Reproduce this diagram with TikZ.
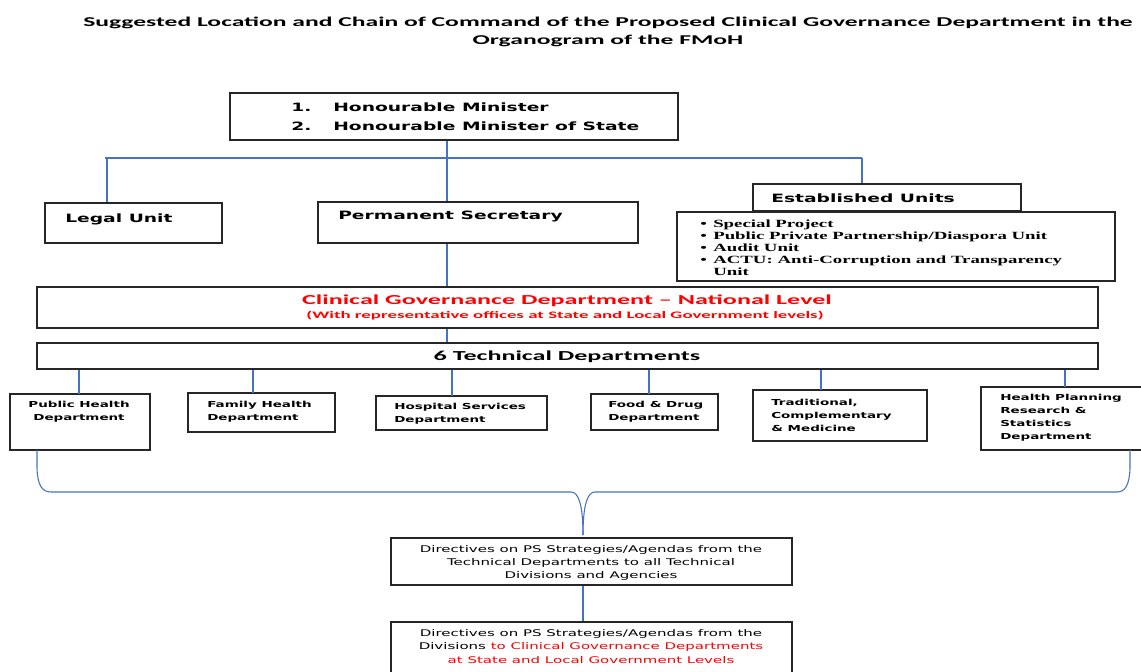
\documentclass[tikz,border=0pt]{standalone}
\usepackage{fontspec}
\usetikzlibrary{fit}
\newfontfamily\titlefont[FakeStretch=1.9]{Carlito}
\newfontfamily\widefont[FakeStretch=1.63]{DejaVu Sans}
\newfontfamily\listfont[FakeStretch=1.71]{Liberation Serif}
\definecolor{link}{HTML}{4472C4}
\definecolor{alert}{HTML}{FF0000}
\tikzset{
  box/.style={draw=black!85, line width=1pt, inner sep=0pt},
  conn/.style={draw=link, line width=0.8pt},
  lbl/.style={inner sep=0pt, text=black},
  head/.style={lbl, font=\widefont\bfseries\fontsize{8.6}{14.25}\selectfont},
  dept/.style={lbl, align=left, font=\widefont\bfseries\fontsize{6.2}{9.75}\selectfont},
  big/.style={lbl, font=\titlefont\bfseries\fontsize{10.3}{13.5}\selectfont},
  note/.style={lbl, align=center, font=\widefont\fontsize{6.9}{9.9}\selectfont},
}
\newcommand{\numitem}[1]{\makebox[31.5pt][l]{#1}}
\newcommand{\bul}{\makebox[9.75pt][l]{\textbullet}}
\begin{document}
\begin{tikzpicture}[x=0.75pt,y=-0.75pt]
\useasboundingbox (0,0) rectangle (1141,671);
\fill[white] (0,0) rectangle (1141,671);

% heading
\node[big, align=center, font=\titlefont\bfseries\fontsize{10.1}{13.5}\selectfont] (title) at (608,32)
  {Suggested Location and Chain of Command of the Proposed Clinical Governance Department in the\\Organogram of the FMoH};

% ministers
\node[box, fit={(230,93)(678,140)}] (min) {};
\node[head, anchor=west, align=left] (mintext) at (291,116.5)
  {\numitem{1.}Honourable Minister\\\numitem{2.}Honourable Minister of State};

% second row
\node[box, fit={(45,203)(222,243)}] (legal) {};
\node[head, anchor=west] (legaltext) at (65,219.5) {Legal Unit};
\node[box, fit={(318,202)(638,243)}] (ps) {};
\node[head, anchor=west] (pstext) at (338,216.5) {Permanent Secretary};
\node[box, fit={(753,184)(1021,211)}] (est) {};
\node[head, anchor=west] (esttext) at (771,198.5) {Established Units};
\node[box, fit={(677,212)(1115,281)}] (units) {};
\node[lbl, anchor=west, align=left, font=\listfont\bfseries\fontsize{8.25}{9}\selectfont] (unitlist) at (700,248)
  {\bul Special Project\\\bul Public Private Partnership/Diaspora Unit\\\bul Audit Unit\\\bul ACTU: Anti-Corruption and Transparency\\\hspace*{9.75pt}Unit};

% clinical governance and technical departments
\node[box, fit={(37,287)(1098,328)}] (cgd) {};
\node[big, text=alert] (cgdtitle) at (567,301) {Clinical Governance Department – National Level};
\node[lbl, text=alert, font=\titlefont\bfseries\fontsize{7.45}{9}\selectfont] (cgdnote) at (565,316)
  {(With representative offices at State and Local Government levels)};
\node[box, fit={(37,343)(1098,369)}] (tech) {};
\node[big] (techtext) at (567,357) {6 Technical Departments};

% departments
\node[box, fit={(10,394)(150,450)}] (pub) {};
\node[dept, align=center] (pubtext) at (79,411.5) {Public Health\\Department};
\node[box, fit={(188,393)(335,432)}] (fam) {};
\node[dept, anchor=west] (famtext) at (207,411.5) {Family Health\\Department};
\node[box, fit={(376,396)(547,430)}] (hosp) {};
\node[dept, anchor=west] (hosptext) at (394,413.5) {Hospital Services\\Department};
\node[box, fit={(591,394)(718,430)}] (food) {};
\node[dept, anchor=west] (foodtext) at (608,411.5) {Food \& Drug\\Department};
\node[box, fit={(753,390)(927,441)}] (trad) {};
\node[dept, anchor=west] (tradtext) at (771,415) {Traditional,\\Complementary\\\& Medicine};
\node[box, fit={(981,387)(1150,450)}] (plan) {};
\node[dept, anchor=west] (plantext) at (1000,417.5) {Health Planning\\Research \&\\Statistics\\Department};

% directives
\node[box, fit={(391,538)(792,585)}] (dir1) {};
\node[note] (dir1text) at (591,563)
  {Directives on PS Strategies/Agendas from the\\Technical Departments to all Technical\\Divisions and Agencies};
\node[box, fit={(391,622)(792,700)}] (dir2) {};
\node[note] (dir2text) at (591,646.5)
  {Directives on PS Strategies/Agendas from the\\Divisions \textcolor{alert}{to Clinical Governance Departments}\\\textcolor{alert}{at State and Local Government Levels}};

% connector points
\coordinate (spine) at (447,158);
\coordinate (legaldrop) at (107,158);
\coordinate (estdrop) at (862,158);
\coordinate (bartl) at (105,158);
\coordinate (pubtop) at (79,394);
\coordinate (famtop) at (253,393);
\coordinate (hosptop) at (452,396);
\coordinate (foodtop) at (649,394);
\coordinate (tradtop) at (821,390);
\coordinate (plantop) at (1065,387);
\coordinate (braceL) at (37,450);
\coordinate (braceR) at (1130,450);
\coordinate (tip) at (583,535);

% reporting lines
\draw[conn] (bartl) -- (estdrop);
\draw[conn] (min.south -| spine) -- (ps.north -| spine);
\draw[conn] (legaldrop) -- (legal.north -| legaldrop);
\draw[conn] (estdrop) -- (est.north -| estdrop);
\draw[conn] (ps.south -| spine) -- (cgd.north -| spine);
\draw[conn] (cgd.south -| spine) -- (tech.north -| spine);
\foreach \t in {pubtop,famtop,hosptop,foodtop,tradtop,plantop}
  \draw[conn] (tech.south -| \t) -- (\t);

% brace gathering the departments
\draw[conn] (braceL) -- (37,468) .. controls (37.5,485) and (42,492) .. (51,492)
  -- (571,492) .. controls (578,492) and (583,503) .. (tip);
\draw[conn] (braceR) -- (1130,468) .. controls (1129.5,485) and (1125,492) .. (1117,492)
  -- (595,492) .. controls (588,492) and (583,503) .. (tip);
\draw[conn] (dir1.south -| tip) -- (dir2.north -| tip);
\end{tikzpicture}
\end{document}
